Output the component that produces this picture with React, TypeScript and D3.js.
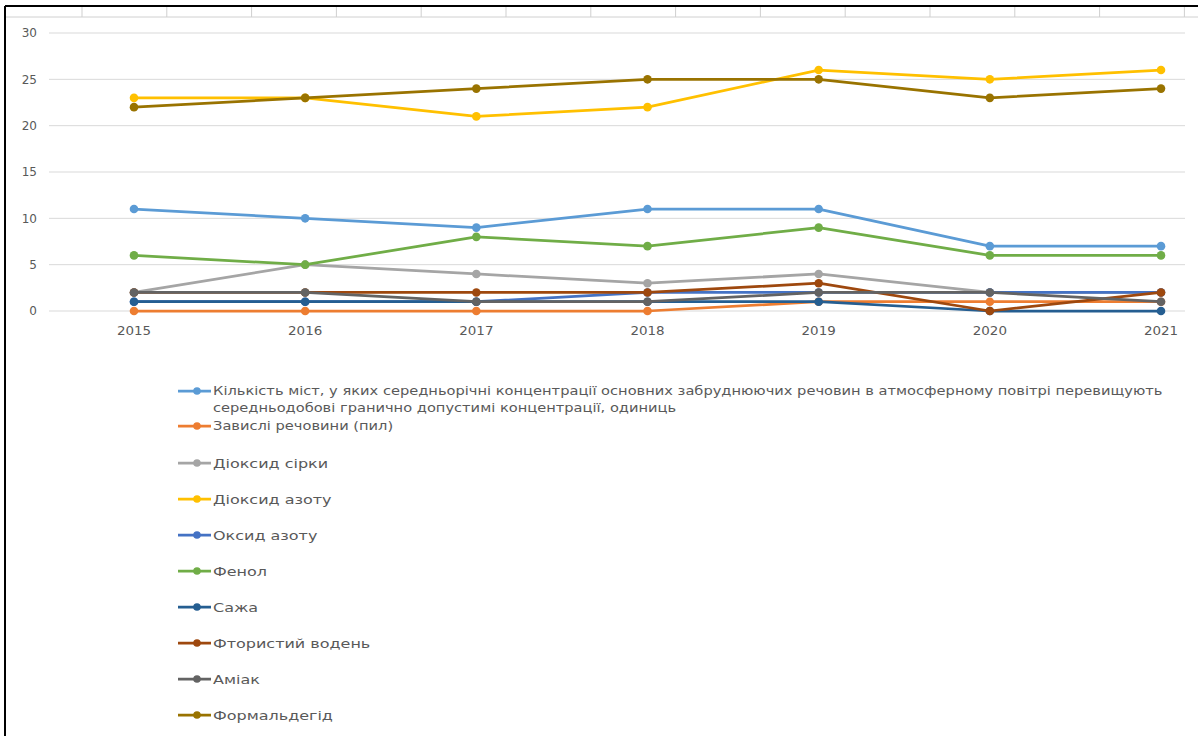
import React from "react";
import * as d3 from "d3";

const years = ["2015", "2016", "2017", "2018", "2019", "2020", "2021"];
const yTicks = [0, 5, 10, 15, 20, 25, 30];

const cities = [11, 10, 9, 11, 11, 7, 7];
const dust = [0, 0, 0, 0, 1, 1, 1];
const so2 = [2, 5, 4, 3, 4, 2, 2];
const no2 = [23, 23, 21, 22, 26, 25, 26];
const no = [1, 1, 1, 2, 2, 2, 2];
const phenol = [6, 5, 8, 7, 9, 6, 6];
const soot = [1, 1, 1, 1, 1, 0, 0];
const hf = [2, 2, 2, 2, 3, 0, 2];
const ammonia = [2, 2, 1, 1, 2, 2, 1];
const formaldehyde = [22, 23, 24, 25, 25, 23, 24];

const seriesNames = [
  ["Кількість міст, у яких середньорічні концентрації основних забруднюючих речовин в атмосферному повітрі перевищують", "середньодобові гранично допустимі концентрації, одиниць"],
  ["Завислі речовини (пил)"],
  ["Діоксид сірки"],
  ["Діоксид азоту"],
  ["Оксид азоту"],
  ["Фенол"],
  ["Сажа"],
  ["Фтористий водень"],
  ["Аміак"],
  ["Формальдегід"],
];
const seriesValues = [cities, dust, so2, no2, no, phenol, soot, hf, ammonia, formaldehyde];
const colors = ["#5B9BD5", "#ED7D31", "#A5A5A5", "#FFC000", "#4472C4", "#70AD47", "#255E91", "#9E480E", "#636363", "#997300"];

const W = 1198;
const H = 736;

export default function App() {
  const x = d3.scalePoint<string>().domain(years).range([134, 1161]);
  const y = d3.scaleLinear().domain([0, 30]).range([311, 33]);
  const line = d3
    .line<number>()
    .x((_, i) => x(years[i]) as number)
    .y((d) => y(d));

  const sheetCols = d3.range(14).map((i) => 82 + i * 84.8);

  const legendRows: number[] = [391, 426, 463, 499, 535, 571, 607, 643, 679, 715];
  const font = "'DejaVu Sans', sans-serif";

  return (
    <svg width={W} height={H} style={{ position: "absolute", left: 0, top: 0, background: "#fff" }}>
      <rect x={0} y={0} width={W} height={H} fill="#fff" />
      {/* sheet background lines at top */}
      <line x1={6} x2={W} y1={17} y2={17} stroke="#d0d0d0" strokeWidth={1} />
      {sheetCols.map((cx, i) => (
        <line key={i} x1={cx} x2={cx} y1={7} y2={17} stroke="#cfcfcf" strokeWidth={1} />
      ))}
      {/* chart border */}
      <line x1={5} x2={W} y1={6} y2={6} stroke="#000" strokeWidth={2} />
      <line x1={5} x2={5} y1={6} y2={H} stroke="#000" strokeWidth={2} />

      {/* gridlines */}
      {yTicks.map((t) => (
        <g key={t}>
          <line x1={49} x2={1185} y1={y(t)} y2={y(t)} stroke="#d9d9d9" strokeWidth={1} />
          <text x={37} y={y(t)} dy="0.35em" textAnchor="end" fontFamily={font} fontSize={12} fill="#595959">
            {t}
          </text>
        </g>
      ))}
      {years.map((yr) => (
        <text
          key={yr}
          transform={`translate(${x(yr) as number},331) scale(1.12,1)`}
          dy="0.35em"
          textAnchor="middle"
          fontFamily={font}
          fontSize={12}
          fill="#595959"
        >
          {yr}
        </text>
      ))}

      {/* series */}
      {seriesValues.map((vals, si) => (
        <g key={si}>
          <path d={line(vals) || ""} fill="none" stroke={colors[si]} strokeWidth={2.75} strokeLinejoin="round" />
          {vals.map((v, i) => (
            <circle key={i} cx={x(years[i]) as number} cy={y(v)} r={4.3} fill={colors[si]} />
          ))}
        </g>
      ))}

      {/* legend */}
      {seriesNames.map((lines, si) => (
        <g key={si}>
          <line x1={178} x2={211} y1={legendRows[si]} y2={legendRows[si]} stroke={colors[si]} strokeWidth={2.75} />
          <circle cx={197} cy={legendRows[si]} r={3.8} fill={colors[si]} />
          {lines.map((t, li) => (
            <text
              key={li}
              transform={`translate(213,${legendRows[si] + li * 17}) scale(${si < 2 ? 1.22 : 1.23},1)`}
              dy="0.35em"
              fontFamily={font}
              fontSize={si < 2 ? 12 : 13}
              fill="#595959"
            >
              {t}
            </text>
          ))}
        </g>
      ))}
    </svg>
  );
}
